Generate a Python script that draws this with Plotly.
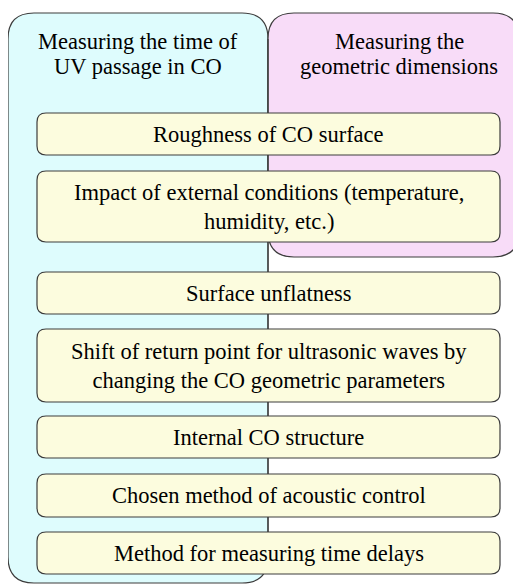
import plotly.graph_objects as go

# ---- content ----
header_left = ["Measuring the time of", "UV passage in CO"]
header_right = ["Measuring the", "geometric dimensions"]
factors = [
    "Roughness of CO surface",
    "Impact of external conditions (temperature,<br>humidity, etc.)",
    "Surface unflatness",
    "Shift of return point for ultrasonic waves by<br>changing the CO geometric parameters",
    "Internal CO structure",
    "Chosen method of acoustic control",
    "Method for measuring time delays",
]

# ---- layout geometry (pixels, y downward, page coordinates) ----
W, H = 521, 585
PAGE_OFF = 8  # default body margin of the page
box_tops = [113, 171, 272, 329, 416, 474, 532]
box_bottoms = [155, 242, 314, 402, 458, 517, 574]
BOX_X0, BOX_X1 = 37, 500
CYAN = dict(x0=8, x1=268, y0=13, y1=583, r=26)
PINK = dict(x0=268, x1=519, y0=13, y1=257, r=26)

FONT = "Liberation Serif"
BORDER = "#3c3c3c"


def rounded(x0, y0, x1, y1, r):
    return (f"M {x0+r},{y0} L {x1-r},{y0} Q {x1},{y0} {x1},{y0+r} "
            f"L {x1},{y1-r} Q {x1},{y1} {x1-r},{y1} "
            f"L {x0+r},{y1} Q {x0},{y1} {x0},{y1-r} "
            f"L {x0},{y0+r} Q {x0},{y0} {x0+r},{y0} Z")


shapes = []
shapes.append(dict(type="path", xref="x", yref="y",
                   path=rounded(CYAN["x0"], CYAN["y0"], CYAN["x1"], CYAN["y1"], CYAN["r"]),
                   fillcolor="#DEFCFD", line=dict(color=BORDER, width=1.2)))
shapes.append(dict(type="path", xref="x", yref="y",
                   path=rounded(PINK["x0"], PINK["y0"], PINK["x1"], PINK["y1"], PINK["r"]),
                   fillcolor="#F8DCF8", line=dict(color=BORDER, width=1.2)))
shapes.append(dict(type="line", xref="x", yref="y", x0=CYAN["x1"], x1=CYAN["x1"],
                   y0=CYAN["y0"] + CYAN["r"], y1=CYAN["y1"] - CYAN["r"],
                   line=dict(color=BORDER, width=1.2)))
for t, b in zip(box_tops, box_bottoms):
    shapes.append(dict(type="path", xref="x", yref="y",
                       path=rounded(BOX_X0, t, BOX_X1, b, 9),
                       fillcolor="#FCFCDE", line=dict(color=BORDER, width=1.2)))

annotations = []
txtfont = dict(family=FONT, size=22.5, color="#000000")
for i, line in enumerate(header_left):
    annotations.append(dict(x=138, y=41 + 25 * i, text=line, showarrow=False,
                            xref="x", yref="y", xanchor="center", yanchor="middle",
                            font=txtfont))
for i, line in enumerate(header_right):
    annotations.append(dict(x=399, y=41 + 25 * i, text=line, showarrow=False,
                            xref="x", yref="y", xanchor="center", yanchor="middle",
                            font=txtfont))
for lab, t, b in zip(factors, box_tops, box_bottoms):
    annotations.append(dict(x=(BOX_X0 + BOX_X1) / 2, y=(t + b) / 2, text=lab, showarrow=False,
                            xref="x", yref="y", xanchor="center", yanchor="middle",
                            font=txtfont))

fig = go.Figure()
fig.update_layout(
    width=W - PAGE_OFF, height=H - PAGE_OFF,
    margin=dict(l=0, r=0, t=0, b=0),
    paper_bgcolor="white", plot_bgcolor="white",
    xaxis=dict(range=[PAGE_OFF, W], visible=False, fixedrange=True),
    yaxis=dict(range=[H, PAGE_OFF], visible=False, fixedrange=True),
    shapes=shapes, annotations=annotations,
    showlegend=False, font=dict(family=FONT),
)
fig.write_html("out.html", config={"displayModeBar": False})
